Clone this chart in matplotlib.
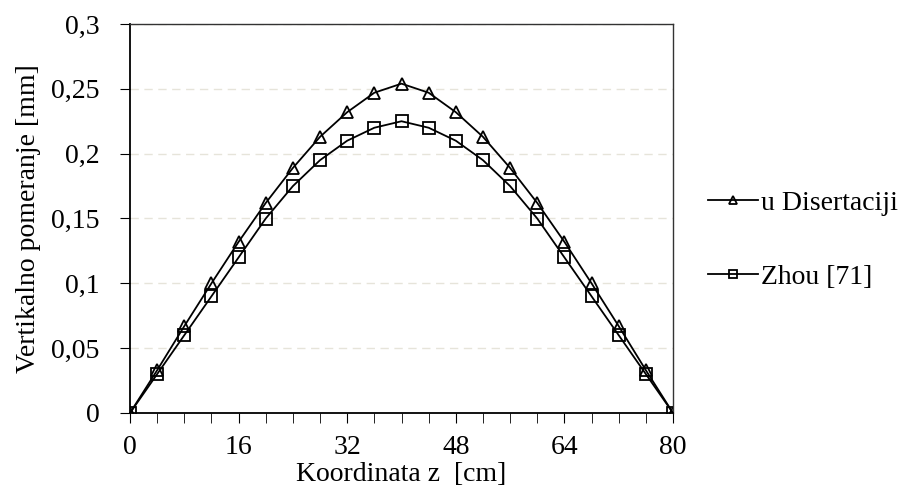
import matplotlib.pyplot as plt
from matplotlib.ticker import MultipleLocator, FuncFormatter

plt.rcParams['font.family'] = ['Liberation Serif', 'DejaVu Serif']
plt.rcParams['font.size'] = 20

z = [0, 4, 8, 12, 16, 20, 24, 28, 32, 36, 40, 44, 48, 52, 56, 60, 64, 68, 72, 76, 80]
disertacija = [0, 0.033, 0.067, 0.100, 0.132, 0.162, 0.189, 0.213, 0.232, 0.247, 0.254,
               0.247, 0.232, 0.213, 0.189, 0.162, 0.132, 0.100, 0.067, 0.033, 0]
zhou = [0, 0.030, 0.060, 0.090, 0.120, 0.150, 0.175, 0.195, 0.210, 0.220, 0.225,
        0.220, 0.210, 0.195, 0.175, 0.150, 0.120, 0.090, 0.060, 0.030, 0]

fig = plt.figure(figsize=(9.04, 4.92), dpi=100)
ax = fig.add_axes([130 / 904, 1 - 413 / 492, 543 / 904, 389 / 492])

ax.plot(z, disertacija, color='black', lw=1.3, marker='^', ms=9, mfc='none',
        mec='black', mew=1.3, label='u Disertaciji')
ax.plot(z, zhou, color='black', lw=1.3, marker='s', ms=8, mfc='none',
        mec='black', mew=1.3, label='Zhou [71]')

ax.set_xlim(0, 80)
ax.set_ylim(0, 0.3)
ax.xaxis.set_major_locator(MultipleLocator(16))
ax.xaxis.set_minor_locator(MultipleLocator(4))
ax.yaxis.set_major_locator(MultipleLocator(0.05))
ax.yaxis.set_major_formatter(FuncFormatter(lambda v, p: ('%g' % round(v, 3)).replace('.', ',')))

ax.grid(axis='y', color='#e6e4da', ls=(0, (6, 4)), lw=1)
ax.set_axisbelow(True)
ax.tick_params(axis='both', which='both', direction='out', color='black')
ax.tick_params(axis='x', which='major', length=7, pad=9)
ax.tick_params(axis='x', which='minor', length=7)
ax.tick_params(axis='y', length=7, pad=15)
for s in ['left', 'bottom']:
    ax.spines[s].set_linewidth(1.3)
for s in ['top', 'right']:
    ax.spines[s].set_linewidth(1.0)
    ax.spines[s].set_color('#333333')

ax.set_xlabel('Koordinata z  [cm]', labelpad=1)
ax.set_ylabel('Vertikalno pomeranje [mm]', labelpad=7)

ax.legend(loc='center left', bbox_to_anchor=(1.018, 0.445), frameon=False,
          handlelength=1.8, handletextpad=0.1, labelspacing=1.75, markerscale=0.7)

fig.savefig('out.png', dpi=100)
